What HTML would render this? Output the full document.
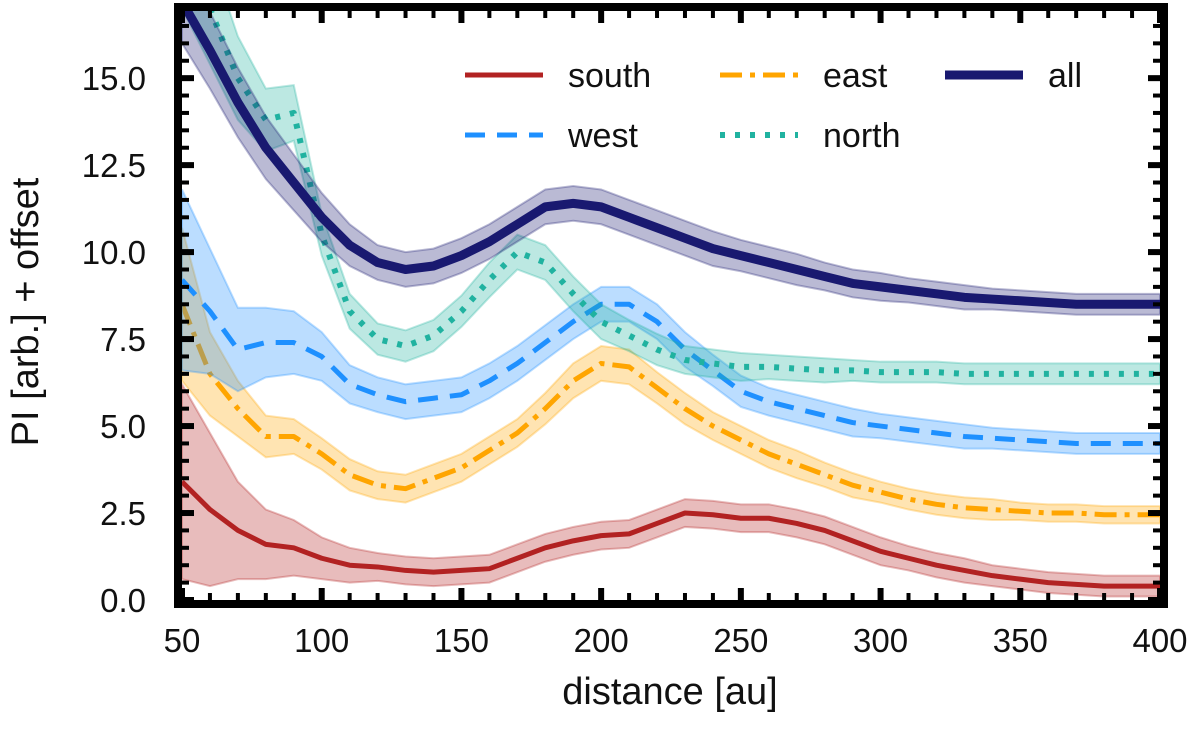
<!DOCTYPE html>
<html><head><meta charset="utf-8"><style>
body{margin:0;background:#fff;}
svg{display:block;font-family:"Liberation Sans","DejaVu Sans",sans-serif;}
</style></head><body>
<svg id="chart" width="1200" height="734" viewBox="0 0 1200 734" xmlns="http://www.w3.org/2000/svg">
<defs><clipPath id="clip"><rect x="182" y="11" width="978" height="589"/></clipPath></defs>
<g id="plot" clip-path="url(#clip)"></g>
<g id="axes"></g>
<g id="legend"></g>
</svg>
<script>
const distances = [50,60,70,80,90,100,110,120,130,140,150,160,170,180,190,200,210,220,230,240,250,260,270,280,290,300,310,320,330,340,350,360,370,380,390,400];
const southVals = [3.4,2.6,2.0,1.6,1.5,1.2,1.0,0.95,0.85,0.8,0.85,0.9,1.2,1.5,1.7,1.85,1.9,2.2,2.5,2.45,2.35,2.35,2.2,2.0,1.7,1.4,1.2,1.0,0.85,0.7,0.6,0.5,0.45,0.4,0.4,0.4];
const southErr = [2.8,2.2,1.4,1.0,0.8,0.6,0.5,0.4,0.4,0.4,0.4,0.4,0.4,0.4,0.4,0.4,0.4,0.4,0.4,0.4,0.4,0.4,0.4,0.4,0.4,0.4,0.35,0.35,0.35,0.3,0.3,0.3,0.3,0.3,0.3,0.3];
const eastVals = [8.5,6.5,5.5,4.7,4.7,4.2,3.6,3.3,3.2,3.5,3.8,4.3,4.8,5.5,6.3,6.8,6.7,6.1,5.5,5.0,4.6,4.2,3.9,3.6,3.3,3.1,2.9,2.75,2.65,2.6,2.55,2.5,2.5,2.45,2.45,2.45];
const eastErr = [2.2,1.2,0.8,0.6,0.5,0.45,0.45,0.4,0.4,0.4,0.4,0.4,0.4,0.45,0.5,0.5,0.5,0.45,0.45,0.4,0.4,0.4,0.4,0.35,0.35,0.3,0.3,0.3,0.3,0.3,0.25,0.25,0.25,0.25,0.25,0.25];
const westVals = [9.2,8.3,7.2,7.4,7.4,7.0,6.2,5.9,5.7,5.8,5.9,6.3,6.8,7.4,8.0,8.5,8.5,8.0,7.2,6.6,6.0,5.7,5.5,5.3,5.1,5.0,4.9,4.8,4.7,4.65,4.6,4.55,4.5,4.5,4.5,4.5];
const westErr = [2.6,1.8,1.2,1.0,0.9,0.7,0.55,0.5,0.5,0.5,0.5,0.5,0.5,0.5,0.5,0.5,0.5,0.5,0.5,0.45,0.45,0.4,0.4,0.4,0.4,0.35,0.35,0.35,0.35,0.3,0.3,0.3,0.3,0.3,0.3,0.3];
const northVals = [19,17,15,13.8,14.0,10.5,8.3,7.5,7.3,7.6,8.3,9.2,10.0,9.7,8.8,8.0,7.6,7.2,6.9,6.8,6.7,6.7,6.65,6.6,6.6,6.55,6.55,6.55,6.5,6.5,6.5,6.5,6.5,6.5,6.5,6.5];
const northErr = [2.0,1.6,1.2,0.9,0.8,0.6,0.5,0.45,0.45,0.45,0.45,0.5,0.5,0.5,0.5,0.5,0.45,0.45,0.4,0.4,0.4,0.35,0.35,0.35,0.3,0.3,0.3,0.3,0.3,0.3,0.3,0.3,0.3,0.3,0.3,0.3];
const allVals = [17.2,15.8,14.3,13.0,12.0,11.0,10.2,9.7,9.5,9.6,9.9,10.3,10.8,11.3,11.4,11.3,11.0,10.7,10.4,10.1,9.9,9.7,9.5,9.3,9.1,9.0,8.9,8.8,8.7,8.65,8.6,8.55,8.5,8.5,8.5,8.5];
const allErr = [1.2,1.1,1.0,0.9,0.8,0.7,0.6,0.5,0.5,0.5,0.5,0.5,0.5,0.5,0.5,0.5,0.5,0.5,0.5,0.5,0.45,0.45,0.45,0.4,0.4,0.4,0.35,0.35,0.35,0.3,0.3,0.3,0.3,0.3,0.3,0.3];
const xTicks = [50,100,150,200,250,300,350,400];
const yTicks = [0,2.5,5,7.5,10,12.5,15];
const yTickLabels = ["0.0","2.5","5.0","7.5","10.0","12.5","15.0"];

const NS="http://www.w3.org/2000/svg";
const X0=182,X1=1160,Y0=600,Y1=11,XMIN=50,XMAX=400,YMIN=0,YMAX=16.93;
function xs(v){return X0+(v-XMIN)/(XMAX-XMIN)*(X1-X0);}
function ys(v){return Y0-(v-YMIN)/(YMAX-YMIN)*(Y0-Y1);}
function mk(tag,attrs,parent){const e=document.createElementNS(NS,tag);for(const k in attrs)e.setAttribute(k,attrs[k]);parent.appendChild(e);return e;}
const plot=document.getElementById('plot'),axes=document.getElementById('axes'),legend=document.getElementById('legend');

const series=[
 {name:'south',vals:southVals,err:southErr,color:'#b22222',fill:'rgba(178,34,34,0.3)',w:5,dash:''},
 {name:'east',vals:eastVals,err:eastErr,color:'#ffa500',fill:'rgba(255,165,0,0.3)',w:5,dash:'22 8 5 8'},
 {name:'west',vals:westVals,err:westErr,color:'#1e90ff',fill:'rgba(30,144,255,0.3)',w:5,dash:'20 12'},
 {name:'north',vals:northVals,err:northErr,color:'#20b2a0',fill:'rgba(32,178,160,0.3)',w:6,dash:'5 10'},
 {name:'all',vals:allVals,err:allErr,color:'#191970',fill:'rgba(25,25,112,0.3)',w:9,dash:''}
];
series.forEach(s=>{
  let up=distances.map((d,i)=>xs(d)+','+ys(s.vals[i]+s.err[i]));
  let lo=distances.map((d,i)=>xs(d)+','+ys(s.vals[i]-s.err[i])).reverse();
  const band=mk('polygon',{points:up.concat(lo).join(' '),fill:s.fill,stroke:s.color,'stroke-opacity':0.3,'stroke-width':2},plot);
  
  
  const line=mk('polyline',{points:distances.map((d,i)=>xs(d)+','+ys(s.vals[i])).join(' '),fill:'none',stroke:s.color,'stroke-width':s.w,'stroke-dasharray':s.dash,'stroke-linejoin':'round'},plot);
  
  
});

const frame=mk('rect',{x:178,y:7,width:986,height:597,fill:'none',stroke:'#000','stroke-width':8},axes);


for(let d=50;d<=400;d+=10){const x=xs(d),major=(d%50===0),L=major?12:7,W=major?6:4;
 mk('line',{x1:x,y1:Y0,x2:x,y2:Y0-L,stroke:'#000','stroke-width':W},axes);
 mk('line',{x1:x,y1:Y1,x2:x,y2:Y1+L,stroke:'#000','stroke-width':W},axes);}
for(let k=0;k<=33;k++){const v=k*0.5,y=ys(v),major=(k%5===0),L=major?12:7,W=major?6:4;
 mk('line',{x1:X0,y1:y,x2:X0+L,y2:y,stroke:'#000','stroke-width':W},axes);
 mk('line',{x1:X1,y1:y,x2:X1-L,y2:y,stroke:'#000','stroke-width':W},axes);}
xTicks.forEach(d=>{const t=mk('text',{x:xs(d),y:652,'text-anchor':'middle','font-size':33,fill:'#111'},axes);t.textContent=d;
 
 });
yTicks.forEach((v,i)=>{const t=mk('text',{x:146,y:ys(v)+12,'text-anchor':'end','font-size':33,fill:'#111'},axes);t.textContent=yTickLabels[i];
 
 });
const xt=mk('text',{x:670,y:704,'text-anchor':'middle','font-size':38,fill:'#111'},axes);xt.textContent='distance [au]';


const yt=mk('text',{x:0,y:0,'text-anchor':'middle','font-size':38,fill:'#111',transform:'translate(38,312) rotate(-90)'},axes);yt.textContent='PI [arb.] + offset';



const leg=[['south',465,75],['east',720,75],['all',945,75],['west',465,135],['north',720,135]];
leg.forEach(([n,x,y])=>{const s=series.find(q=>q.name===n);
 const g=mk('g',{},legend);
 
 
 mk('line',{x1:x,y1:y,x2:x+78,y2:y,stroke:s.color,'stroke-width':s.w,'stroke-dasharray':s.dash},g);
 const t=mk('text',{x:x+103,y:y+12,'font-size':34,fill:'#111'},g);t.textContent=n;});
</script>
</body></html>
